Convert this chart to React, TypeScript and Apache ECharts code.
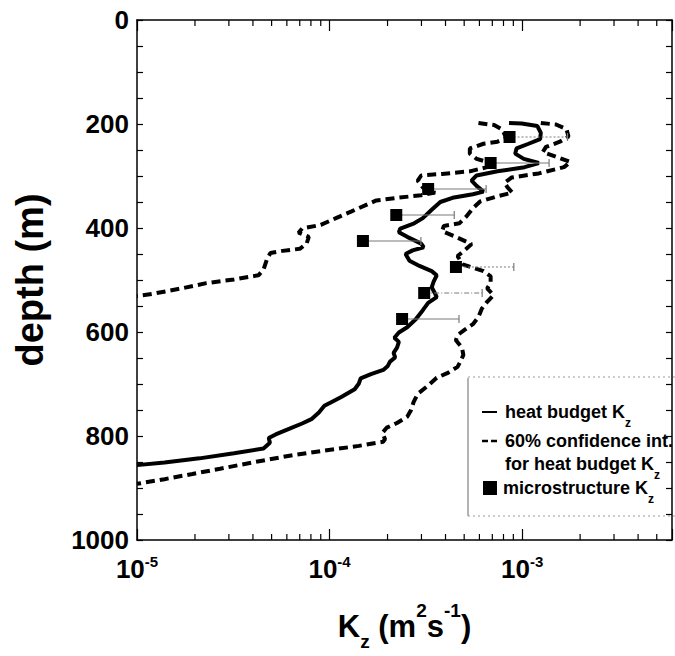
import React, { useEffect, useRef } from 'react';
import * as echarts from 'echarts';

const FONT = '"Liberation Sans", Arial, Helvetica, sans-serif';

// heat budget Kz (solid)
const solidK = [8.55e-4, 9.95e-4, 1.2e-3, 1.25e-3, 1.24e-3, 1.08e-3, 9.35e-4, 9.2e-4, 1.02e-3, 1.22e-3, 1.03e-3, 7.45e-4, 5.8e-4, 5.46e-4, 5.8e-4, 6.3e-4, 5.55e-4, 4.35e-4, 3.76e-4, 3.39e-4, 3.05e-4, 2.75e-4, 2.33e-4, 2.29e-4, 2.53e-4, 2.99e-4, 3.08e-4, 2.7e-4, 2.48e-4, 2.6e-4, 2.93e-4, 3.39e-4, 3.6e-4, 3.47e-4, 3.39e-4, 3.53e-4, 3.6e-4, 3.25e-4, 3.05e-4, 2.81e-4, 2.53e-4, 2.29e-4, 2.17e-4, 2.29e-4, 2.24e-4, 2.15e-4, 2.19e-4, 2.06e-4, 2.0e-4, 1.9e-4, 1.64e-4, 1.45e-4, 1.42e-4, 1.35e-4, 1.15e-4, 1.02e-4, 9.4e-5, 8.8e-5, 8.1e-5, 7.2e-5, 6.2e-5, 5.25e-5, 4.83e-5, 4.9e-5, 4.54e-5, 3.19e-5, 2.11e-5, 1.39e-5, 1e-5];
const solidDepth = [198, 199, 204, 217, 229, 238, 247, 257, 267, 275, 283, 291, 299, 309, 319, 330, 335, 342, 350, 365, 381, 391, 401, 408, 417, 430, 437, 443, 450, 463, 473, 483, 491, 503, 514, 526, 533, 544, 558, 575, 591, 601, 611, 619, 630, 640, 649, 657, 666, 673, 681, 689, 699, 710, 725, 735, 742, 755, 767, 776, 786, 797, 804, 813, 824, 833, 843, 851, 856];

// 60% confidence interval, lower bound (dashed, left)
const lowK = [5.93e-4, 7.15e-4, 7.9e-4, 8.26e-4, 7.45e-4, 6.3e-4, 5.35e-4, 5.35e-4, 5.8e-4, 6.58e-4, 6.58e-4, 5.35e-4, 3.84e-4, 2.99e-4, 2.87e-4, 3.05e-4, 3.53e-4, 2.99e-4, 2.24e-4, 1.75e-4, 1.54e-4, 1.3e-4, 1.08e-4, 9.0e-5, 7.2e-5, 6.9e-5, 7.8e-5, 7.6e-5, 7.0e-5, 5.7e-5, 4.93e-5, 4.73e-5, 4.54e-5, 4.27e-5, 3.19e-5, 2.29e-5, 1.71e-5, 1.23e-5, 1e-5];
const lowDepth = [198, 202, 211, 227, 234, 238, 247, 257, 267, 273, 283, 291, 296, 299, 309, 322, 332, 337, 342, 347, 356, 368, 381, 394, 401, 409, 417, 430, 440, 444, 448, 460, 480, 491, 499, 506, 516, 526, 531];

// 60% confidence interval, upper bound (dashed, right)
const highK = [1.25e-3, 1.5e-3, 1.7e-3, 1.74e-3, 1.57e-3, 1.33e-3, 1.28e-3, 1.5e-3, 1.78e-3, 1.65e-3, 1.22e-3, 8.8e-4, 8.1e-4, 8.4e-4, 8.9e-4, 7.45e-4, 6.05e-4, 5.55e-4, 5.13e-4, 4.72e-4, 3.92e-4, 3.84e-4, 4.45e-4, 5.46e-4, 5.13e-4, 4.62e-4, 4.92e-4, 6.3e-4, 6.86e-4, 6.86e-4, 6.58e-4, 7.1e-4, 6.58e-4, 6.18e-4, 5.93e-4, 5.55e-4, 5.02e-4, 4.62e-4, 4.53e-4, 4.87e-4, 4.95e-4, 4.81e-4, 4.62e-4, 4.14e-4, 3.6e-4, 3.25e-4, 2.87e-4, 2.73e-4, 2.65e-4, 2.53e-4, 2.24e-4, 1.98e-4, 1.88e-4, 1.94e-4, 1.9e-4, 1.42e-4, 9.4e-5, 6.2e-5, 4.1e-5, 2.7e-5, 1.94e-5, 1.39e-5, 1e-5];
const highDepth = [198, 201, 210, 224, 234, 244, 254, 263, 273, 283, 295, 303, 313, 322, 332, 339, 349, 362, 378, 391, 396, 406, 416, 431, 440, 454, 470, 483, 493, 506, 516, 529, 542, 555, 571, 585, 596, 606, 616, 630, 644, 655, 667, 678, 688, 703, 719, 735, 750, 763, 775, 784, 794, 806, 811, 819, 828, 838, 850, 863, 873, 883, 892];

// microstructure Kz with upper error bar
const microDepth = [225, 275, 325, 375, 425, 475, 525, 575];
const microK = [8.6e-4, 6.86e-4, 3.25e-4, 2.22e-4, 1.49e-4, 4.53e-4, 3.1e-4, 2.38e-4];
const microHigh = [1.72e-3, 1.38e-3, 6.5e-4, 4.44e-4, 2.98e-4, 9.05e-4, 6.2e-4, 4.7e-4];
const microBarStyle = [1, 0, 0, 0, 0, 1, 2, 0]; // 0 solid, 1 dotted, 2 dash-dot

// minor log ticks
const minorTicks = [2e-5, 3e-5, 4e-5, 5e-5, 6e-5, 7e-5, 8e-5, 9e-5, 2e-4, 3e-4, 4e-4, 5e-4, 6e-4, 7e-4, 8e-4, 9e-4, 2e-3, 3e-3, 4e-3, 5e-3];

const xMin = 1e-5;
const xMax = 6e-3;
const yMin = 0;
const yMax = 1000;

const pairs = (xs: number[], ys: number[]) => xs.map((x, i) => [x, ys[i]]);

export default function App() {
  const ref = useRef<HTMLDivElement>(null);

  useEffect(() => {
    const chart = echarts.init(ref.current!, null, { renderer: 'svg' });

    const tickLabelRich = {
      b: { fontSize: 26, fontWeight: 'bold', fontFamily: FONT, color: '#000', lineHeight: 30 },
      s: { fontSize: 15, fontWeight: 'bold', fontFamily: FONT, color: '#000', verticalAlign: 'top', lineHeight: 11 },
    };

    const logFormatter = (v: number) => {
      const l = Math.log10(v);
      const e = Math.round(l);
      if (Math.abs(l - e) > 1e-6) return '';
      return `{b|10}{s|${e}}`;
    };

    const baseX = {
      type: 'log',
      logBase: 10,
      min: xMin,
      max: xMax,
      gridIndex: 0,
      splitLine: { show: false },
      axisLine: { onZero: false, lineStyle: { color: '#000', width: 1.5 } },
      axisTick: { inside: true, length: 11, lineStyle: { color: '#000', width: 1.2 } },
    };

    const baseY = {
      type: 'value',
      inverse: true,
      min: yMin,
      max: yMax,
      interval: 50,
      gridIndex: 0,
      splitLine: { show: false },
      axisLine: { onZero: false, lineStyle: { color: '#000', width: 1.5 } },
      axisTick: { inside: true, length: 6, lineStyle: { color: '#000', width: 1.2 } },
    };

    const titleStyle = { fontSize: 31, fontWeight: 'bold', fontFamily: FONT, color: '#000' };

    const legendRich = {
      a: { fontSize: 18, fontWeight: 'bold', fontFamily: FONT, color: '#000', lineHeight: 33 },
      z: { fontSize: 12, fontWeight: 'bold', fontFamily: FONT, color: '#000', verticalAlign: 'bottom', lineHeight: 12 },
    };

    const option: any = {
      animation: false,
      backgroundColor: '#fff',
      grid: { left: 137, right: 3, top: 20, bottom: 104, containLabel: false },
      xAxis: [
        {
          ...baseX,
          position: 'bottom',
          axisLabel: { formatter: logFormatter, rich: tickLabelRich, margin: 14 },
          name: '{t|K}{z|z}{t| (m}{p|2}{t|s}{p|-1}{t|)}',
          nameLocation: 'middle',
          nameGap: 61,
          nameTextStyle: {
            rich: {
              t: { ...titleStyle, lineHeight: 50 },
              z: { ...titleStyle, fontSize: 19, verticalAlign: 'bottom', lineHeight: 16 },
              p: { ...titleStyle, fontSize: 19, verticalAlign: 'top', lineHeight: 39 },
            },
          },
        },
        { ...baseX, position: 'top', axisLabel: { show: false } },
      ],
      yAxis: [
        {
          ...baseY,
          position: 'left',
          axisLabel: {
            formatter: (v: number) => (v % 200 === 0 ? String(v) : ''),
            fontSize: 26,
            fontWeight: 'bold',
            fontFamily: FONT,
            color: '#000',
            margin: 8,
          },
          name: 'depth (m)',
          nameLocation: 'middle',
          nameRotate: 90,
          nameGap: 88,
          nameTextStyle: { ...titleStyle, fontSize: 38 },
        },
        { ...baseY, position: 'right', axisLabel: { show: false } },
      ],
      series: [
        {
          type: 'custom',
          name: 'minor ticks',
          silent: true,
          data: minorTicks.map((v) => [v, 500]),
          encode: { x: 0, y: 1 },
          renderItem: (params: any, api: any) => {
            const x = api.coord([api.value(0), 500])[0];
            const cs = params.coordSys;
            const top = cs.y;
            const bottom = cs.y + cs.height;
            const st = { stroke: '#000', lineWidth: 1.2 };
            return {
              type: 'group',
              children: [
                { type: 'line', shape: { x1: x, y1: bottom, x2: x, y2: bottom - 6 }, style: st },
                { type: 'line', shape: { x1: x, y1: top, x2: x, y2: top + 6 }, style: st },
              ],
            };
          },
          z: 1,
        },
        {
          type: 'line',
          name: 'heat budget Kz',
          data: pairs(solidK, solidDepth),
          showSymbol: false,
          symbol: 'none',
          lineStyle: { color: '#000', width: 4 },
          z: 3,
          silent: true,
        },
        {
          type: 'line',
          name: 'lower 60% confidence',
          data: pairs(lowK, lowDepth),
          showSymbol: false,
          symbol: 'none',
          lineStyle: { color: '#000', width: 4, type: [9, 5] },
          z: 3,
          silent: true,
        },
        {
          type: 'line',
          name: 'upper 60% confidence',
          data: pairs(highK, highDepth),
          showSymbol: false,
          symbol: 'none',
          lineStyle: { color: '#000', width: 4, type: [9, 5] },
          z: 3,
          silent: true,
        },
        {
          type: 'custom',
          name: 'microstructure error',
          silent: true,
          data: microK.map((k, i) => [k, microDepth[i], microHigh[i], microBarStyle[i]]),
          encode: { x: [0, 2], y: 1 },
          renderItem: (params: any, api: any) => {
            const d = api.value(1);
            const p0 = api.coord([api.value(0), d]);
            const p1 = api.coord([api.value(2), d]);
            const s = api.value(3);
            const dash = s === 1 ? [2, 2] : s === 2 ? [5, 2, 1, 2] : null;
            return {
              type: 'group',
              children: [
                {
                  type: 'line',
                  shape: { x1: p0[0], y1: p0[1], x2: p1[0], y2: p1[1] },
                  style: { stroke: '#7a7a7a', lineWidth: 1.2, lineDash: dash },
                },
                {
                  type: 'line',
                  shape: { x1: p1[0], y1: p1[1] - 4, x2: p1[0], y2: p1[1] + 4 },
                  style: { stroke: '#7a7a7a', lineWidth: 1.2 },
                },
              ],
            };
          },
          z: 4,
        },
        {
          type: 'scatter',
          name: 'microstructure Kz',
          data: pairs(microK, microDepth),
          symbol: 'rect',
          symbolSize: 12,
          itemStyle: { color: '#000', opacity: 1 },
          z: 5,
          silent: true,
        },
      ],
      graphic: [
        { type: 'line', shape: { x1: 468, y1: 378, x2: 468, y2: 516 }, style: { stroke: '#9a9a9a', lineWidth: 1.5 } },
        { type: 'line', shape: { x1: 468, y1: 377, x2: 675, y2: 377 }, style: { stroke: '#9a9a9a', lineWidth: 1, lineDash: [2, 3] } },
        { type: 'line', shape: { x1: 468, y1: 516, x2: 675, y2: 516 }, style: { stroke: '#9a9a9a', lineWidth: 1, lineDash: [2, 3] } },
        { type: 'line', shape: { x1: 482, y1: 412, x2: 497, y2: 412 }, style: { stroke: '#000', lineWidth: 2 } },
        { type: 'line', shape: { x1: 482, y1: 441, x2: 488, y2: 441 }, style: { stroke: '#000', lineWidth: 2.5 } },
        { type: 'line', shape: { x1: 491, y1: 441, x2: 497, y2: 441 }, style: { stroke: '#000', lineWidth: 2.5 } },
        { type: 'rect', shape: { x: 483, y: 481, width: 14, height: 14 }, style: { fill: '#000' } },
        {
          type: 'text', x: 505, y: 412,
          style: { text: '{a|heat budget K}{z|z}', rich: legendRich, verticalAlign: 'middle', align: 'left' },
        },
        {
          type: 'text', x: 505, y: 441,
          style: { text: '60% confidence int.', fontSize: 18, fontWeight: 'bold', fontFamily: FONT, fill: '#000', verticalAlign: 'middle', align: 'left' },
        },
        {
          type: 'text', x: 505, y: 464,
          style: { text: '{a|for heat budget K}{z|z}', rich: legendRich, verticalAlign: 'middle', align: 'left' },
        },
        {
          type: 'text', x: 503, y: 488,
          style: { text: '{a|microstructure K}{z|z}', rich: legendRich, verticalAlign: 'middle', align: 'left' },
        },
      ],
    };

    chart.setOption(option);
    return () => chart.dispose();
  }, []);

  return (
    <div
      ref={ref}
      style={{ position: 'fixed', left: 0, top: 0, width: 675, height: 656, background: '#fff' }}
    />
  );
}
